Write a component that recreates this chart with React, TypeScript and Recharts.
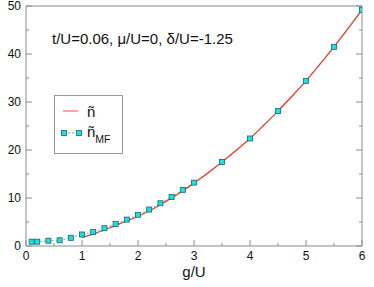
import { ComposedChart, Line, XAxis, YAxis, Legend } from "recharts";

// exact curve (red)
const gExact = [1, 1.25, 1.5, 1.75, 2, 2.25, 2.5, 2.75, 3, 3.25, 3.5, 3.75, 4, 4.25, 4.5, 4.75, 5, 5.25, 5.5, 5.75, 6];
const nExact = [1.8, 2.7, 3.8, 5.0, 6.2, 7.6, 9.3, 11.1, 13.1, 15.2, 17.5, 19.9, 22.4, 25.2, 28.1, 31.2, 34.4, 37.9, 41.5, 45.3, 49.2];

// mean-field points
const gMF = [0.1, 0.2, 0.4, 0.6, 0.8, 1.0, 1.2, 1.4, 1.6, 1.8, 2.0, 2.2, 2.4, 2.6, 2.8, 3.0, 3.5, 4.0, 4.5, 5.0, 5.5, 6.0];
const nMF = [0.9, 0.9, 1.1, 1.2, 1.7, 2.4, 2.9, 3.7, 4.6, 5.5, 6.5, 7.6, 8.9, 10.2, 11.7, 13.2, 17.5, 22.4, 28.1, 34.4, 41.5, 49.2];

const xTicks = [0, 0.5, 1, 1.5, 2, 2.5, 3, 3.5, 4, 4.5, 5, 5.5, 6];
const yTicks = [0, 5, 10, 15, 20, 25, 30, 35, 40, 45, 50];

const seriesNames = ["ñ", "ñ"];
const annotation = "t/U=0.06,  μ/U=0,  δ/U=-1.25";

const exactData = gExact.map((g, i) => ({ g, n: nExact[i] }));
const mfData = gMF.map((g, i) => ({ g, n: nMF[i] }));

const FONT = "'Liberation Sans', Arial, Helvetica, sans-serif";
const AXIS = "#8c8c8c";
const RED = "#e4402c";
const CYAN = "#22dede";
const CYAN_EDGE = "#0b6d6d";

const isMajor = (v: number, step: number) => Math.abs(v / step - Math.round(v / step)) < 1e-6;

function BottomTick({ x, y, payload }: any) {
  const major = isMajor(payload.value, 1);
  return (
    <g>
      <line x1={x} x2={x} y1={y} y2={y - (major ? 6 : 3)} stroke={AXIS} />
      {major && (
        <text x={x} y={y + 14} textAnchor="middle" fontSize={12} fontFamily={FONT} fill="#111">
          {payload.value}
        </text>
      )}
    </g>
  );
}

function TopTick({ x, y, payload }: any) {
  const major = isMajor(payload.value, 1);
  return <line x1={x} x2={x} y1={y} y2={y + (major ? 6 : 3)} stroke={AXIS} />;
}

function LeftTick({ x, y, payload }: any) {
  const major = isMajor(payload.value, 10);
  return (
    <g>
      <line x1={x} x2={x + (major ? 6 : 3)} y1={y} y2={y} stroke={AXIS} />
      {major && (
        <text x={x - 5} y={y + 4.3} textAnchor="end" fontSize={12} fontFamily={FONT} fill="#111">
          {payload.value}
        </text>
      )}
    </g>
  );
}

function RightTick({ x, y, payload }: any) {
  const major = isMajor(payload.value, 10);
  return <line x1={x} x2={x - (major ? 6 : 3)} y1={y} y2={y} stroke={AXIS} />;
}

function SquareDot({ cx, cy, key }: any) {
  return <rect key={key} x={cx - 2.5} y={cy - 2.5} width={5} height={5} fill={CYAN} stroke={CYAN_EDGE} strokeWidth={0.8} />;
}

function LegendBox() {
  return (
    <svg width={69} height={59} style={{ display: "block" }}>
      <rect x={0.5} y={0.5} width={68} height={58} fill="#fff" stroke="#9a9a9a" />
      <line x1={9} x2={24} y1={16} y2={16} stroke="#f07a6a" strokeWidth={1.3} />
      <text x={33} y={22} fontSize={15} fontFamily={FONT} fill="#111">{seriesNames[0]}</text>
      <line x1={10} x2={25} y1={38} y2={38} stroke="#999" strokeDasharray="2 2" />
      <rect x={7.5} y={35.5} width={5} height={5} fill={CYAN} stroke={CYAN_EDGE} strokeWidth={0.8} />
      <rect x={22.5} y={35.5} width={5} height={5} fill={CYAN} stroke={CYAN_EDGE} strokeWidth={0.8} />
      <text x={33} y={42} fontSize={15} fontFamily={FONT} fill="#111">
        {seriesNames[1]}
        <tspan fontSize={10.5} dy={6}>MF</tspan>
      </text>
    </svg>
  );
}

export default function App() {
  return (
    <div style={{ position: "absolute", left: 0, top: 0, width: 374, height: 287, background: "#fff" }}>
      <ComposedChart width={374} height={287} margin={{ top: 0, right: 0, bottom: 0, left: 0 }}>
        <XAxis
          xAxisId="x"
          dataKey="g"
          type="number"
          domain={[0, 6]}
          allowDataOverflow
          ticks={xTicks}
          interval={0}
          height={41}
          tickSize={0}
          tickMargin={0}
          tickLine={false}
          axisLine={{ stroke: AXIS }}
          tick={BottomTick}
          label={{ value: "g/U", position: "insideBottom", offset: 10, fontSize: 15, fontFamily: FONT, fill: "#111" }}
        />
        <XAxis
          xAxisId="top"
          orientation="top"
          type="number"
          domain={[0, 6]}
          allowDataOverflow
          ticks={xTicks}
          interval={0}
          height={6}
          tickSize={0}
          tickMargin={0}
          tickLine={false}
          axisLine={{ stroke: AXIS }}
          tick={TopTick}
        />
        <YAxis
          yAxisId="y"
          type="number"
          domain={[0, 50]}
          allowDataOverflow
          ticks={yTicks}
          interval={0}
          width={26}
          tickSize={0}
          tickMargin={0}
          tickLine={false}
          axisLine={{ stroke: AXIS }}
          tick={LeftTick}
        />
        <YAxis
          yAxisId="r"
          orientation="right"
          type="number"
          domain={[0, 50]}
          allowDataOverflow
          ticks={yTicks}
          interval={0}
          width={12}
          tickSize={0}
          tickMargin={0}
          tickLine={false}
          axisLine={{ stroke: AXIS }}
          tick={RightTick}
        />
        <Line
          xAxisId="x"
          yAxisId="y"
          data={mfData}
          dataKey="n"
          name="nMF"
          type="linear"
          stroke="#9a9a9a"
          strokeWidth={1}
          strokeDasharray="2 2"
          dot={SquareDot}
          activeDot={false}
          isAnimationActive={false}
        />
        <Line
          xAxisId="x"
          yAxisId="y"
          data={exactData}
          dataKey="n"
          name="n"
          type="monotone"
          stroke={RED}
          strokeWidth={1.3}
          dot={false}
          activeDot={false}
          isAnimationActive={false}
        />
        <Legend
          layout="vertical"
          align="center"
          verticalAlign="middle"
          content={() => <LegendBox />}
          wrapperStyle={{ left: 54, top: 95, width: 69, height: 59 }}
        />
        <text x={52} y={43.5} fontSize={15} fontFamily={FONT} fill="#111">
          {annotation}
        </text>
      </ComposedChart>
    </div>
  );
}
